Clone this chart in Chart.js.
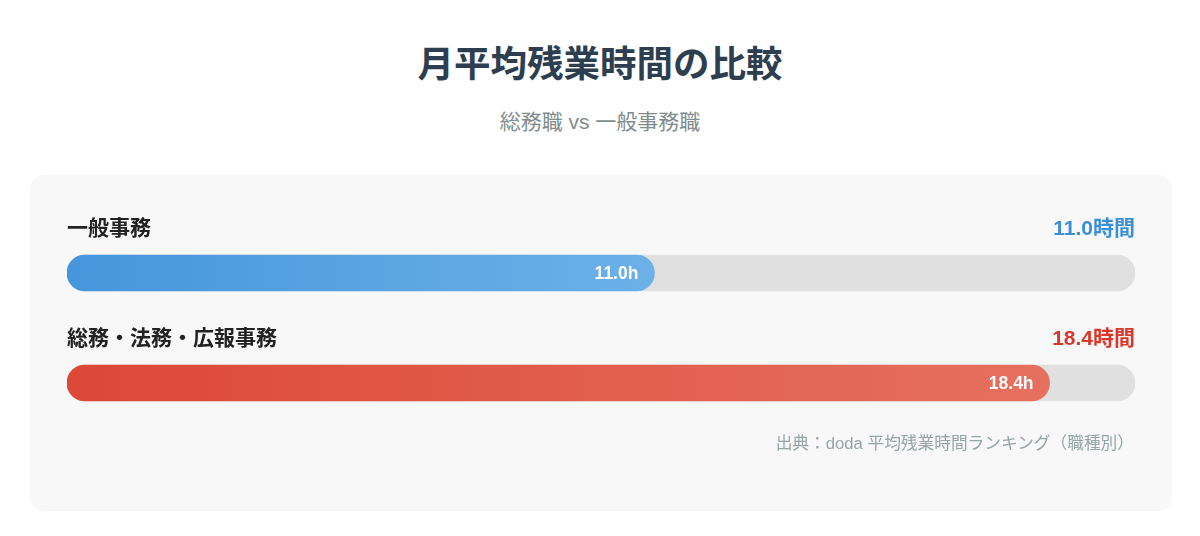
<!DOCTYPE html>
<html lang="ja">
<head>
<meta charset="utf-8">
<script src="https://cdn.jsdelivr.net/npm/chart.js@4"></script>
<style>
  html, body { margin:0; padding:0; background:#ffffff; width:1200px; height:536px; overflow:hidden; }
  body { font-family: "Liberation Sans", "Noto Sans CJK JP", sans-serif; position:relative; }
  #title { position:absolute; left:0; width:1200px; top:37px; text-align:center; font-size:36.5px; font-weight:bold; color:#2c3e50; line-height:50px; font-family:"Noto Sans CJK JP", sans-serif; }
  #subtitle { position:absolute; left:0; width:1200px; top:107px; text-align:center; font-size:21px; color:#7f8c8d; line-height:30px; }
  #card { position:absolute; left:30px; top:175px; width:1142px; height:336px; background:#f8f8f8; border-radius:14px; }
  #wrap { position:absolute; left:30px; top:175px; width:1142px; height:336px; }
  #source { position:absolute; right:66px; top:431px; font-size:16.7px; color:#95a5a6; line-height:26px; }
</style>
</head>
<body>
<div id="title">月平均残業時間の比較</div>
<div id="subtitle">総務職 vs 一般事務職</div>
<div id="card"></div>
<div id="wrap"><canvas id="c" width="1142" height="336"></canvas></div>
<div id="source">出典：doda 平均残業時間ランキング（職種別）</div>
<script>
const categories = ["一般事務", "総務・法務・広報事務"];
const hours = [11.0, 18.4];
const maxHours = 20;
const unitLabel = "時間";
const innerSuffix = "h";
const gradStart = ["#4596db", "#dd4837"];
const gradEnd = ["#6cb1e8", "#e6705f"];
const labelColors = ["#3a8fd8", "#d9372a"];
const trackColor = "#e0e0e0";

const FONT = '"Liberation Sans", "Noto Sans CJK JP", sans-serif';

function barGradient(ctx) {
  const chart = ctx.chart;
  const i = ctx.dataIndex;
  if (!chart.chartArea || !chart.scales.x) return gradStart[i];
  const x0 = chart.scales.x.getPixelForValue(0);
  const x1 = chart.scales.x.getPixelForValue(hours[i]);
  const g = chart.ctx.createLinearGradient(x0, 0, x1, 0);
  g.addColorStop(0, gradStart[i]);
  g.addColorStop(1, gradEnd[i]);
  return g;
}

const labelPlugin = {
  id: 'labels',
  afterDatasetsDraw(chart) {
    const ctx = chart.ctx;
    const meta = chart.getDatasetMeta(0);
    const xs = chart.scales.x;
    ctx.save();
    meta.data.forEach((bar, i) => {
      const y = bar.y;
      ctx.font = 'bold 21px ' + FONT;
      ctx.fillStyle = '#222222';
      ctx.textAlign = 'left';
      ctx.textBaseline = 'middle';
      ctx.fillText(categories[i], xs.getPixelForValue(0), y - 44);
      ctx.fillStyle = labelColors[i];
      ctx.textAlign = 'right';
      ctx.fillText(hours[i].toFixed(1) + unitLabel, xs.getPixelForValue(maxHours), y - 44);
      ctx.font = 'bold 17.5px ' + FONT;
      ctx.fillStyle = '#ffffff';
      ctx.fillText(hours[i].toFixed(1) + innerSuffix, bar.x - 16, y + 1);
    });
    ctx.restore();
  }
};

new Chart(document.getElementById('c'), {
  type: 'bar',
  data: {
    labels: categories,
    datasets: [
      {
        data: hours,
        backgroundColor: barGradient,
        borderRadius: 18,
        borderSkipped: false,
        barThickness: 36,
        grouped: false,
        order: 1
      },
      {
        data: categories.map(() => maxHours),
        backgroundColor: trackColor,
        borderRadius: 18,
        borderSkipped: false,
        barThickness: 36,
        grouped: false,
        order: 2
      }
    ]
  },
  options: {
    indexAxis: 'y',
    responsive: false,
    animation: false,
    layout: { padding: { left: 37, right: 37, top: 43, bottom: 73 } },
    plugins: { legend: { display: false }, tooltip: { enabled: false }, title: { display: false } },
    scales: {
      x: { display: false, min: 0, max: maxHours },
      y: { display: false }
    }
  },
  plugins: [labelPlugin]
});
</script>
</body>
</html>
